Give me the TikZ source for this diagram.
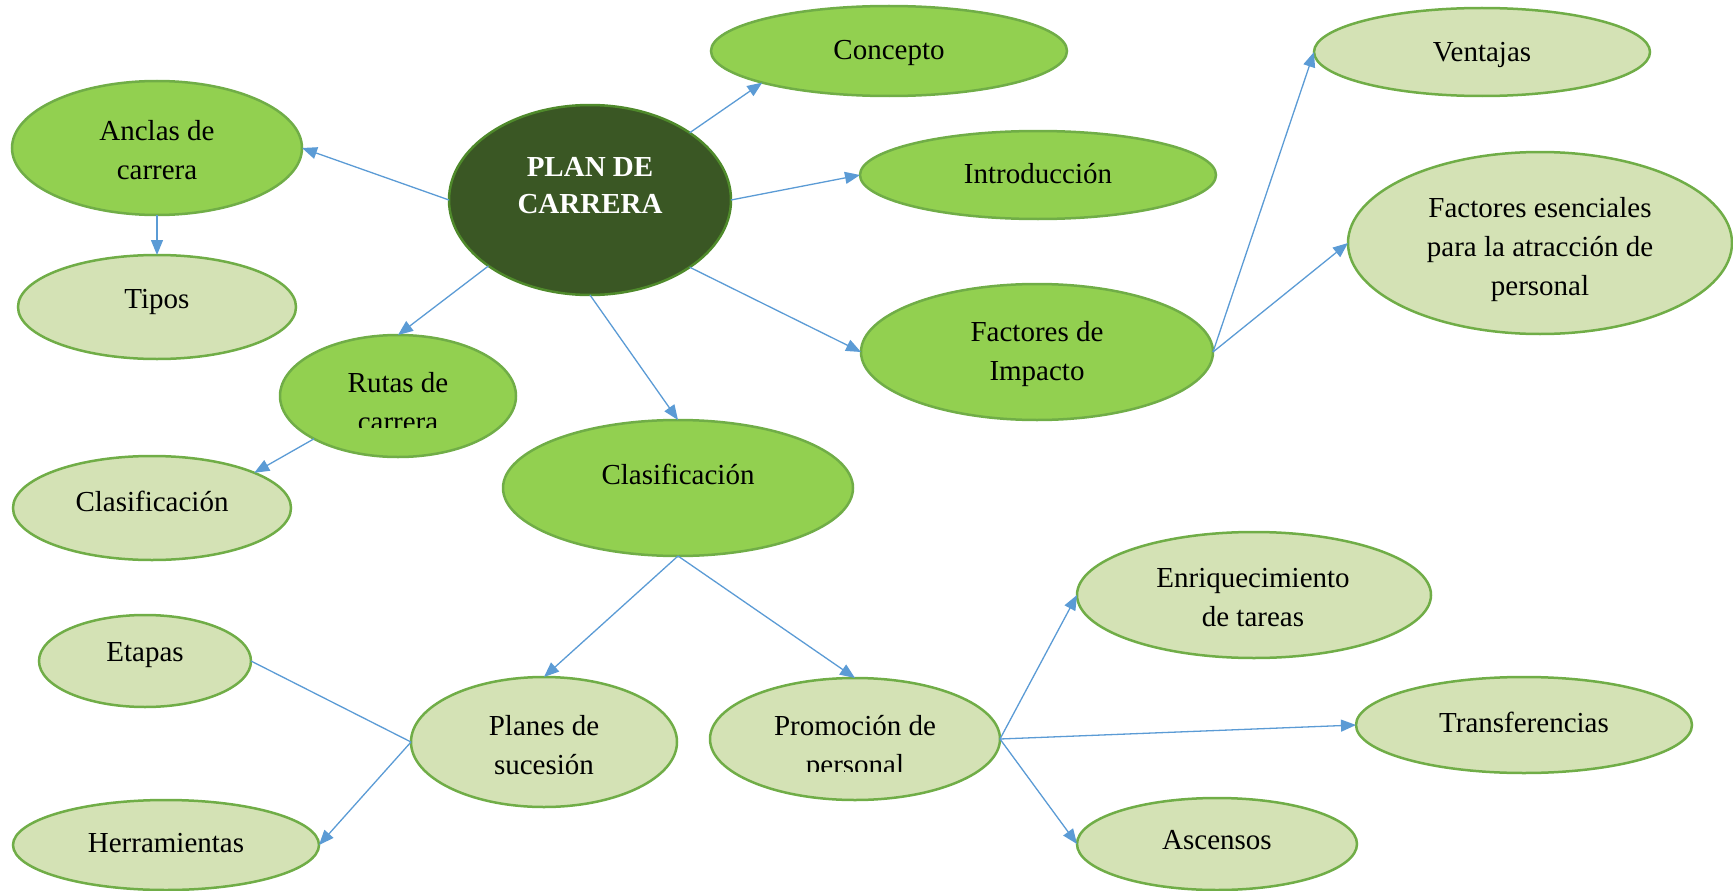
\documentclass[tikz,border=0pt]{standalone}
\usepackage{fontspec}
\setmainfont{Liberation Serif}
\usetikzlibrary{arrows.meta,shapes.geometric}
\definecolor{darkfill}{HTML}{3A5724}
\definecolor{darkline}{HTML}{4F8A2B}
\definecolor{midfill}{HTML}{92D050}
\definecolor{lightfill}{HTML}{D4E2B5}
\definecolor{ellline}{HTML}{70AD47}
\definecolor{arrowblue}{HTML}{5B9BD5}
\tikzset{
  ell/.style={ellipse, draw=ellline, line width=2.5pt, inner sep=0pt, outer sep=0pt},
  darkell/.style={ell, fill=darkfill, draw=darkline},
  midell/.style={ell, fill=midfill},
  lightell/.style={ell, fill=lightfill},
  txt/.style={align=center, inner sep=0pt, font=\fontsize{29}{39}\selectfont},
  conn/.style={draw=arrowblue, line width=1.3pt},
  arr/.style={conn, -{Triangle[length=15pt,width=12pt]}}
}
\begin{document}
\begin{tikzpicture}[x=1pt,y=-1pt]
\useasboundingbox (0,0) rectangle (1733,891);
% ellipses
\node[darkell, minimum width=282pt, minimum height=190pt] (plan) at (590,200) {};
\node[midell, minimum width=356pt, minimum height=90pt] (concepto) at (889,51) {};
\node[midell, minimum width=290pt, minimum height=134pt] (anclas) at (157,148) {};
\node[midell, minimum width=356pt, minimum height=88pt] (intro) at (1038,175) {};
\node[lightell, minimum width=336pt, minimum height=88pt] (ventajas) at (1482,52) {};
\node[lightell, minimum width=384pt, minimum height=182pt] (esenciales) at (1540,243) {};
\node[lightell, minimum width=278pt, minimum height=104pt] (tipos) at (157,307) {};
\node[midell, minimum width=236pt, minimum height=122pt] (rutas) at (398,396) {};
\node[midell, minimum width=352pt, minimum height=136pt] (impacto) at (1037,352) {};
\node[lightell, minimum width=278pt, minimum height=104pt] (clasizq) at (152,508) {};
\node[midell, minimum width=350pt, minimum height=136pt] (clasif) at (678,488) {};
\node[lightell, minimum width=354pt, minimum height=126pt] (enriq) at (1254,595) {};
\node[lightell, minimum width=212pt, minimum height=92pt] (etapas) at (145,661) {};
\node[lightell, minimum width=266pt, minimum height=130pt] (planes) at (544,742) {};
\node[lightell, minimum width=290pt, minimum height=122pt] (promo) at (855,739) {};
\node[lightell, minimum width=336pt, minimum height=96pt] (transf) at (1524,725) {};
\node[lightell, minimum width=306pt, minimum height=90pt] (herram) at (166,845) {};
\node[lightell, minimum width=280pt, minimum height=92pt] (ascensos) at (1217,844) {};
% texts
\node[txt, text=white, font=\fontsize{29}{37}\selectfont\bfseries] (tplan) at (590,186) {PLAN DE\\CARRERA};
\node[txt] (tconcepto) at (889,52.5) {Concepto};
\node[txt] (tanclas) at (157,150) {Anclas de\\carrera};
\node[txt] (tintro) at (1038,174) {Introducción};
\node[txt] (tventajas) at (1482,54.5) {Ventajas};
\node[txt] (tesenciales) at (1540,250) {Factores esenciales\\para la atracción de\\personal};
\node[txt] (ttipos) at (157,301.5) {Tipos};
\begin{scope}
\clip (270,330) rectangle (530,427);
\node[txt] (trutas) at (398,402.5) {Rutas de\\carrera};
\end{scope}
\node[txt] (timpacto) at (1037,354) {Factores de\\Impacto};
\node[txt] (tclasizq) at (152,501) {Clasificación};
\node[txt] (tclasif) at (678,474) {Clasificación};
\node[txt] (tenriq) at (1253,598) {Enriquecimiento\\de tareas};
\node[txt] (tetapas) at (145,655.5) {Etapas};
\node[txt] (tplanes) at (544,745.5) {Planes de\\sucesión};
\begin{scope}
\clip (700,690) rectangle (1010,771);
\node[txt] (tpromo) at (855,747.5) {Promoción de\\personal};
\end{scope}
\node[txt] (ttransf) at (1524,722) {Transferencias};
\node[txt] (therram) at (166,843) {Herramientas};
\node[txt] (tascensos) at (1217,840) {Ascensos};
% connectors
\draw[arr] (plan.34.7) -- (concepto.194.3);
\draw[arr] (plan.180) -- (anclas.0);
\draw[arr] (plan.0) -- (intro.180);
\draw[arr] (plan.213.4) -- (rutas.90);
\draw[arr] (plan.270) -- (clasif.90);
\draw[arr] (plan.326.8) -- (impacto.180);
\draw[arr] (anclas.270) -- (tipos.90);
\draw[arr] (rutas.207.4) -- (clasizq.19.8);
\draw[arr] (impacto.0) -- (ventajas.180);
\draw[arr] (impacto.0) -- (esenciales.180);
\draw[arr] (clasif.270) -- (planes.90);
\draw[arr] (clasif.270) -- (promo.90);
\draw[conn] (planes.180) -- (etapas.0);
\draw[arr] (planes.180) -- (herram.0);
\draw[arr] (promo.0) -- (enriq.180);
\draw[arr] (promo.0) -- (transf.180);
\draw[arr] (promo.0) -- (ascensos.180);
\end{tikzpicture}
\end{document}
